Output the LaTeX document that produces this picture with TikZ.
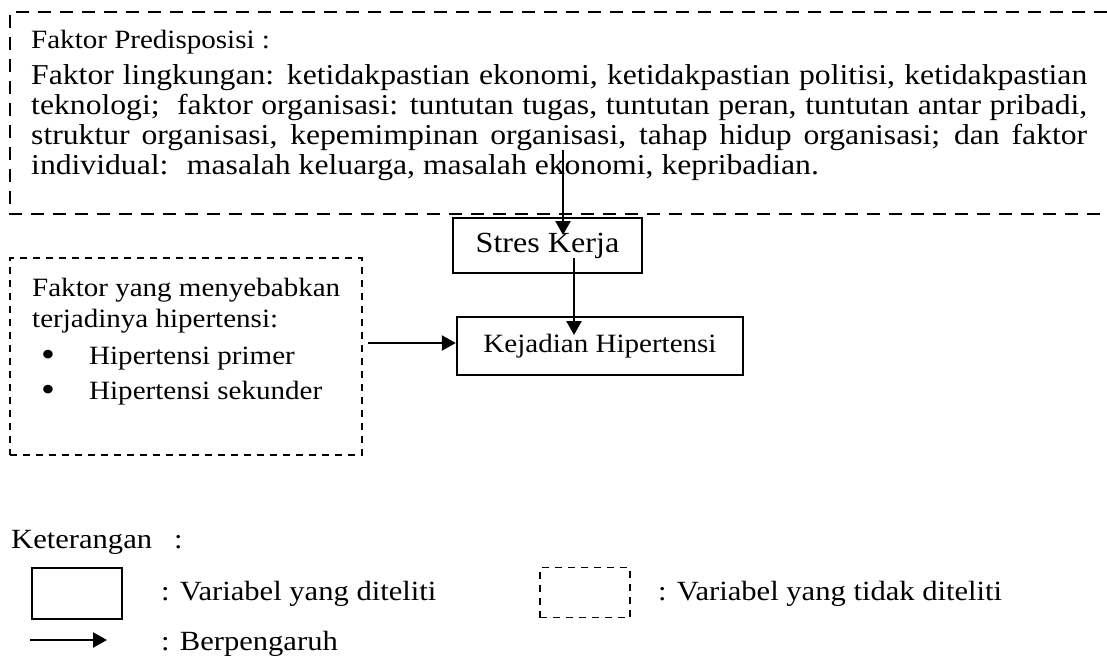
\documentclass[tikz,border=0pt]{standalone}
\usepackage{fontspec}
\setmainfont[FakeStretch=1.1]{Liberation Serif}
\usetikzlibrary{arrows.meta}
\newcommand\fmain{\fontsize{14.4pt}{15pt}\selectfont}
\newcommand\fsmall{\fontsize{13.2pt}{15pt}\selectfont}
\newcommand\fbig{\fontsize{14.6pt}{16pt}\selectfont}
\newcommand\fleg{\fontsize{13.9pt}{15pt}\selectfont}

\begin{document}
\begin{tikzpicture}[x=0.5pt,y=-0.5pt,>={Triangle[length=7pt,width=7.5pt]},line width=1.2pt,
	txt/.style={inner sep=0pt,anchor=base west},
	box/.style={draw,inner sep=0pt},
	bigdash/.style={dash pattern=on 6.5pt off 4.5pt},
	smalldash/.style={dash pattern=on 3.5pt off 3pt,line width=0.9pt}]
	\useasboundingbox (0,0) rectangle (1107,659);
	% faktor predisposisi
	\draw[bigdash] (1107,12)--(10,12)--(10,214)--(1107,214);
	\node[txt,font=\fsmall] (predhead) at (30,48) {Faktor Predisposisi :};
	\node[txt,text width=528pt,align=justify,font={\fmain\hyphenpenalty=10000}] (pred) at (30,84)
	{Faktor lingkungan: ketidakpastian ekonomi, ketidakpastian politisi, ketidakpastian\linebreak
	teknologi; \ faktor organisasi: tuntutan tugas, tuntutan peran, tuntutan antar pribadi,\linebreak
	struktur organisasi, kepemimpinan organisasi, tahap hidup organisasi; dan faktor\linebreak
	individual: \ masalah keluarga, masalah ekonomi, kepribadian.};
	% variabel
	\node[box,minimum width=94.5pt,minimum height=27.5pt,font=\fbig] (stres) at (547.5,245.5) {Stres Kerja};
	\node[box,minimum width=143pt,minimum height=29pt,font=\fsmall] (kej) at (600,346) {Kejadian Hipertensi};
	% faktor hipertensi
	\node[box,smalldash,minimum width=176pt,minimum height=98.5pt] (hip) at (186,356.5) {};
	\node[txt,font=\fsmall] (hip1) at (31,296) {Faktor yang menyebabkan};
	\node[txt,font=\fsmall] (hip2) at (31,327) {terjadinya hipertensi:};
	\node[txt,font=\fsmall\fontsize{18pt}{18pt}\selectfont] (hip3) at (40,366) {\textbullet};
	\node[txt,font=\fsmall] (hip4) at (88,364) {Hipertensi primer};
	\node[txt,font=\fsmall\fontsize{18pt}{18pt}\selectfont] (hip5) at (40,401) {\textbullet};
	\node[txt,font=\fsmall] (hip6) at (88,399) {Hipertensi sekunder};
	% panah
	\coordinate (predout) at (563,150);
	\coordinate (stresin) at (563,235);
	\coordinate (stresout) at (574,258);
	\coordinate (kejin) at (574,335);
	\coordinate (hipout) at (368,343);
	\draw[->] (predout)--(stresin);
	\draw[->] (stresout)--(kejin);
	\draw[->] (hipout)--(hipout -| kej.west);
	% keterangan
	\node[txt,font=\fleg] (ket) at (10,548) {Keterangan};
	\node[txt,font=\fleg] (ketcolon) at (173,548) {:};
	\node[box,minimum width=45pt,minimum height=25.5pt] (lgbox) at (77,593.5) {};
	\node[txt,font=\fleg] (lgboxtxt) at (160,600) {: Variabel yang diteliti};
	\node[box,smalldash,minimum width=45pt,minimum height=25pt] (lgdash) at (585,592.5) {};
	\node[txt,font=\fleg] (lgdashtxt) at (657,600) {: Variabel yang tidak diteliti};
	\coordinate (lgarra) at (30,640);
	\coordinate (lgarrb) at (107,640);
	\draw[->] (lgarra)--(lgarrb);
	\node[txt,font=\fleg] (lgarrtxt) at (160,650) {: Berpengaruh};
\end{tikzpicture}
\end{document}
